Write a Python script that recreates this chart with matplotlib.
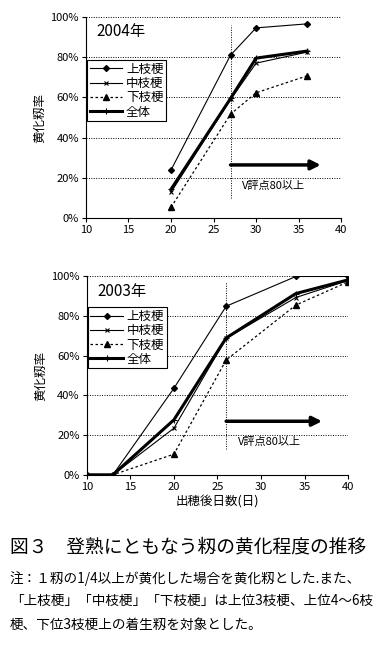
import matplotlib.pyplot as plt
from matplotlib.ticker import FuncFormatter

plt.rcParams['font.family'] = ['Noto Sans CJK JP', 'DejaVu Sans']

# 2004 data
x_2004 = [20, 27, 30, 36]
upper_2004 = [24, 81, 94.5, 96.5]
middle_2004 = [13, 59, 77, 82.5]
lower_2004 = [5.5, 51.7, 62.3, 70.7]
total_2004 = [14.4, 59.5, 79.5, 83]

# 2003 data
x_2003 = [10, 13, 20, 26, 34, 40]
upper_2003 = [0, 0, 43.6, 85, 100, 100]
middle_2003 = [0, 0, 23.5, 68.8, 89.4, 98]
lower_2003 = [0, 0, 10.4, 57.9, 85.6, 97.3]
total_2003 = [0, 0, 27.7, 69, 91.4, 98.3]

series_names = ['上枝梗', '中枝梗', '下枝梗', '全体']
xticks = [10, 15, 20, 25, 30, 35, 40]
yticks = [0, 20, 40, 60, 80, 100]

fig = plt.figure(figsize=(3.89, 6.46), dpi=100)
ax1 = fig.add_axes([0.221, 0.662, 0.656, 0.312])
ax2 = fig.add_axes([0.223, 0.265, 0.672, 0.307])


def draw_panel(ax, x, up, mid, low, tot, year, vline_x, vspan, arrow_y, arrow_end, leg_y):
    ax.plot(x, up, color='black', lw=0.8, marker='D', ms=3, label=series_names[0])
    ax.plot(x, mid, color='black', lw=0.8, marker='x', ms=3, mew=0.8, label=series_names[1])
    ax.plot(x, low, color='black', lw=0.9, ls=(0, (2, 2)), marker='^', ms=5, label=series_names[2])
    ax.plot(x, tot, color='black', lw=2.2, marker='+', ms=5, mew=0.8, label=series_names[3])
    ax.set_xlim(10, 40)
    ax.set_ylim(0, 100)
    ax.set_xticks(xticks)
    ax.set_yticks(yticks)
    ax.yaxis.set_major_formatter(FuncFormatter(lambda v, p: f'{v:.0f}%'))
    ax.tick_params(labelsize=8, length=3, width=0.8, direction='out', pad=2)
    ax.yaxis.grid(True, ls=(0, (1, 1.5)), color='black', lw=0.7)
    for s in ['top', 'right']:
        ax.spines[s].set_visible(False)
    for s in ['left', 'bottom']:
        ax.spines[s].set_linewidth(0.8)
    ax.set_ylabel('黄化籾率', fontsize=9, labelpad=3)
    ax.plot([vline_x, vline_x], vspan, color='black', lw=0.7, ls=(0, (1, 1.5)))
    ax.annotate('', xy=(arrow_end, arrow_y), xytext=(vline_x, arrow_y),
                arrowprops=dict(arrowstyle='-|>', lw=2.5, color='black',
                                mutation_scale=14, shrinkA=0, shrinkB=0))
    ax.text(vline_x + 1.3, arrow_y - 10.5, 'V評点80以上', fontsize=8, va='center')
    ax.text(0.04, 0.925, year, transform=ax.transAxes, fontsize=11, va='center')
    leg = ax.legend(loc='upper left', bbox_to_anchor=(0.0, leg_y), fontsize=9,
                    handlelength=2.6, handletextpad=0.3, labelspacing=0.1,
                    borderpad=0.2, fancybox=False, framealpha=1,
                    edgecolor='black', borderaxespad=0.1)
    leg.get_frame().set_linewidth(0.8)


draw_panel(ax1, x_2004, upper_2004, middle_2004, lower_2004, total_2004,
           '2004年', 27, [10, 96], 26.5, 37.6, 0.79)
draw_panel(ax2, x_2003, upper_2003, middle_2003, lower_2003, total_2003,
           '2003年', 26, [13, 97], 27, 37.0, 0.85)
ax2.set_xlabel('出穂後日数(日)', fontsize=9, labelpad=2)

fig.text(0.025, 0.153, '図３　登熟にともなう籾の黄化程度の推移', fontsize=13.5, va='center')
notes = ['注：１籾の1/4以上が黄化した場合を黄化籾とした.また、',
         '「上枝梗」「中枝梗」「下枝梗」は上位3枝梗、上位4～6枝',
         '梗、下位3枝梗上の着生籾を対象とした。']
for i, line in enumerate(notes):
    fig.text(0.025, 0.105 - i * 0.036, line, fontsize=9.8, va='center')

fig.savefig('out.png', dpi=100)
